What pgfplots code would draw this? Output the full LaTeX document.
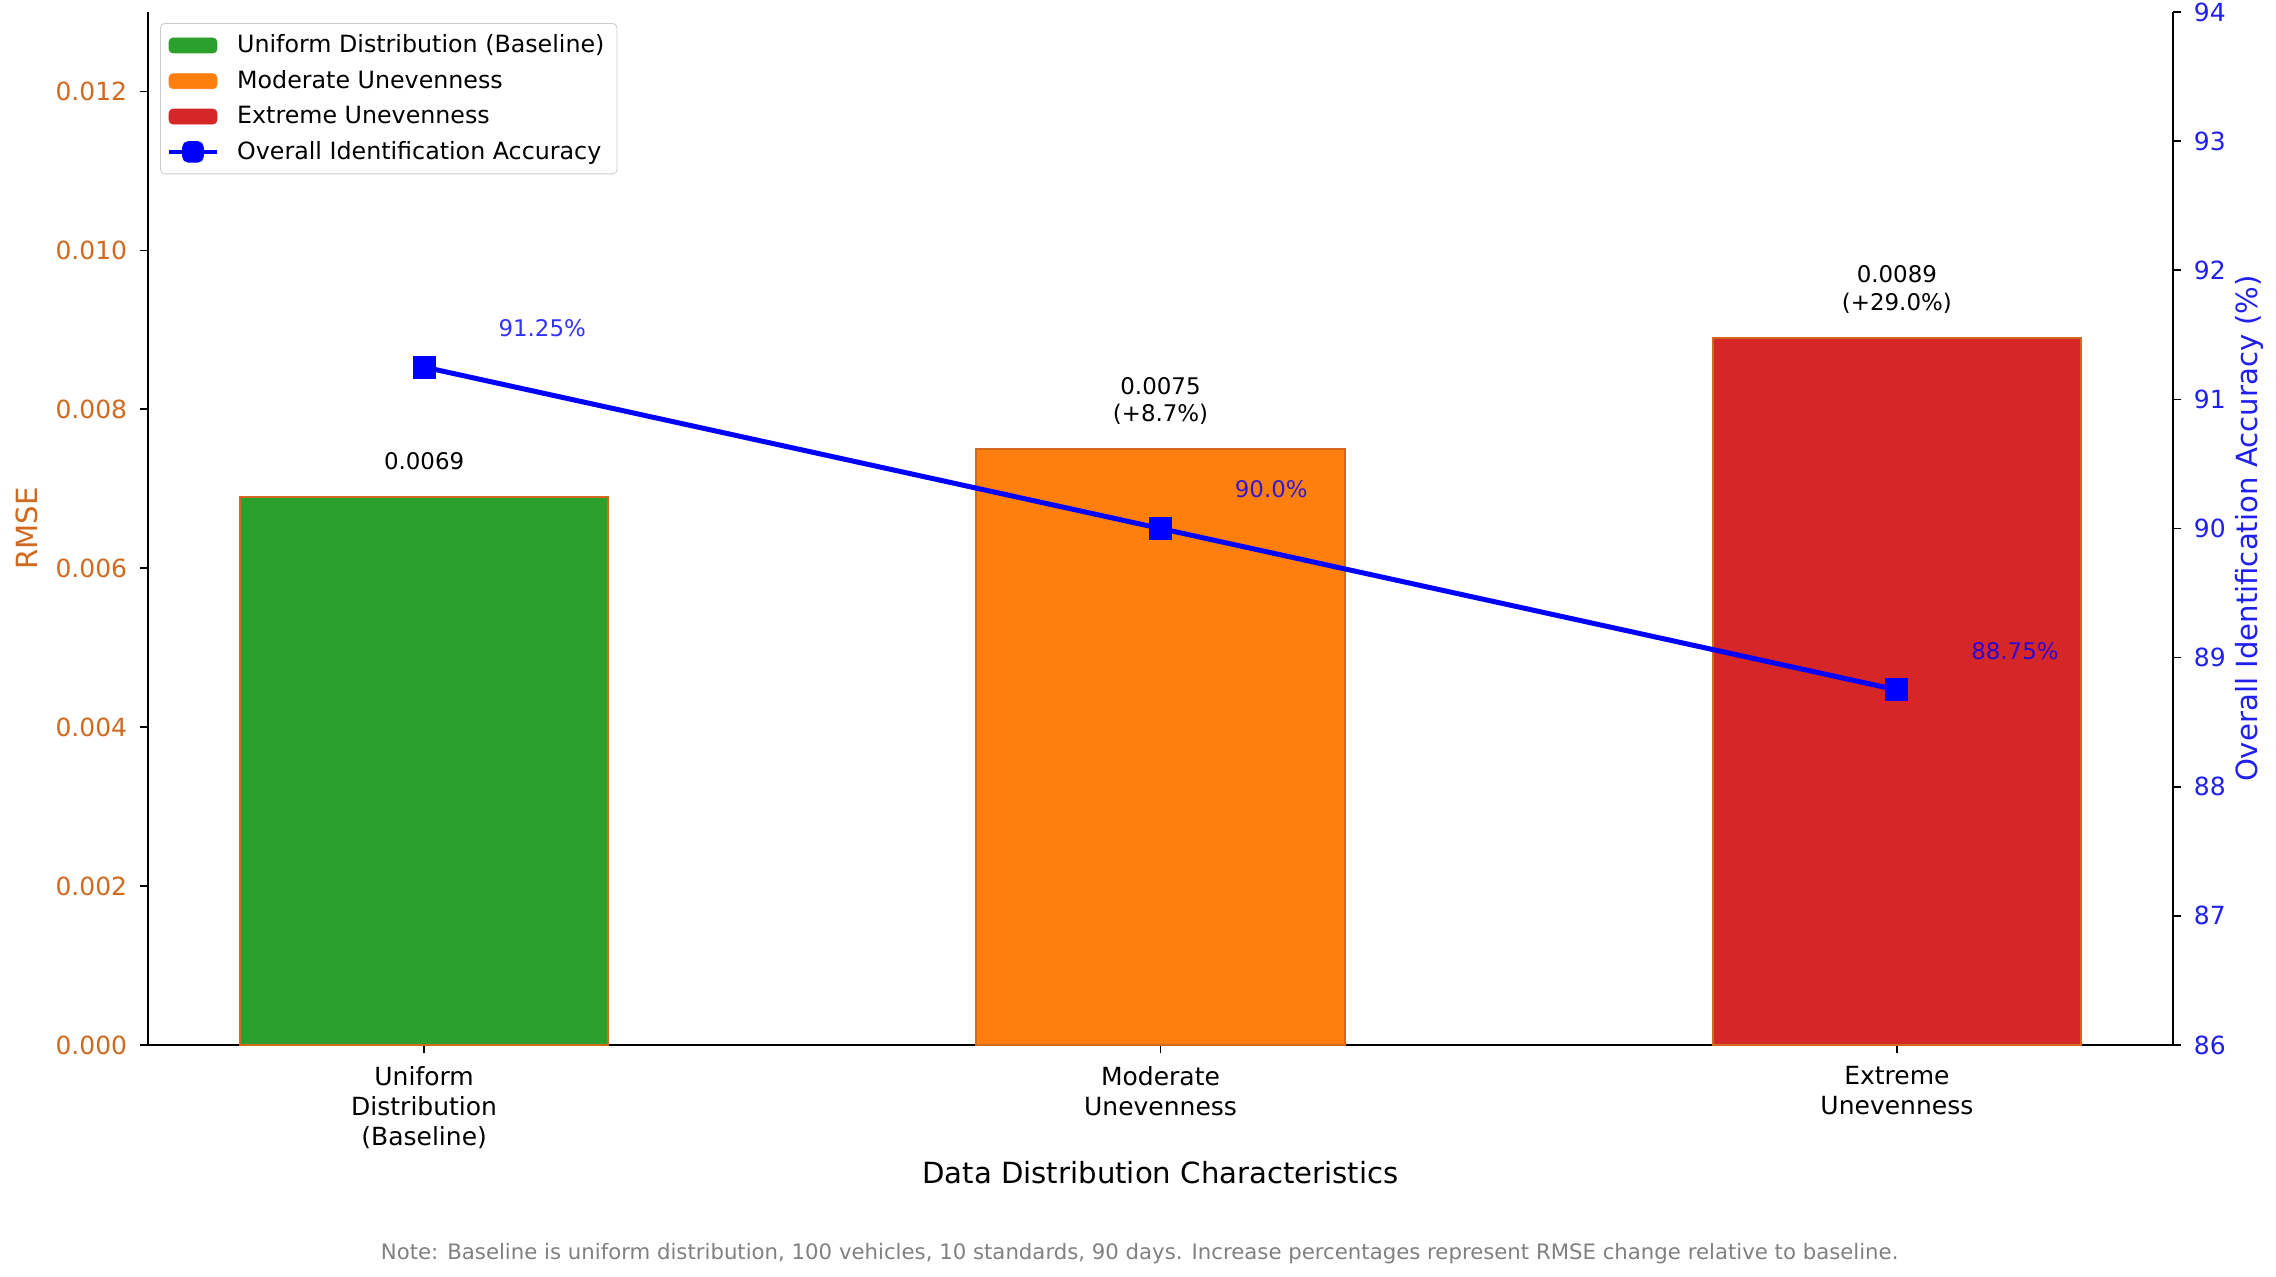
\documentclass[border=0pt]{standalone}
\usepackage{pgfplots}
\pgfplotsset{compat=1.18}
\usepackage{fontspec}
\setmainfont{DejaVu Sans}
\definecolor{cgreen}{HTML}{2CA02C}
\definecolor{corange}{HTML}{FF7F0E}
\definecolor{cred}{HTML}{D62728}
\definecolor{cedge}{HTML}{D2691E}
\definecolor{cblue}{HTML}{0000FF}
\definecolor{cticks}{HTML}{1F1FF0}
\begin{document}
\begin{tikzpicture}[x=1bp,y=1bp]
\pgfplotsset{
  every axis/.append style={
    scale only axis, width=972bp, height=495.84bp,
    at={(0,0)}, anchor=south west,
    xmin=-0.375, xmax=2.375,
    /pgf/number format/assume math mode=true,
    tick label style={font=\fontsize{12bp}{14bp}\selectfont},
    label style={font=\fontsize{14bp}{16bp}\selectfont},
    major tick length=4bp,
    tick align=outside,
    tick style={black, line width=0.8bp},
    axis line style={line width=1bp},
  }
}
\begin{axis}[
  ymin=0, ymax=0.013,
  axis y line*=left,
  axis x line*=bottom,
  ytick={0,0.002,0.004,0.006,0.008,0.010,0.012},
  yticklabel style={color=cedge, xshift=-2.5bp, /pgf/number format/fixed, /pgf/number format/fixed zerofill, /pgf/number format/precision=3},
  scaled y ticks=false,
  xtick={0,1,2},
  xticklabels={Uniform\\Distribution\\(Baseline), Moderate\\Unevenness, Extreme\\Unevenness},
  xticklabel style={align=center, yshift=-2.8bp, font=\fontsize{12bp}{14.3bp}\selectfont},
  xlabel={Data Distribution Characteristics},
  ylabel={RMSE},
  ylabel style={color=cedge, yshift=1.4bp},
  xlabel style={yshift=0.7bp},
  clip=false,
]
\addplot[ybar, bar width=0.5, bar shift=0pt, fill=cgreen, draw=cedge, line width=1bp] coordinates {(0,0.0069)};
\addplot[ybar, bar width=0.5, bar shift=0pt, fill=corange, draw=cedge, line width=1bp] coordinates {(1,0.0075)};
\addplot[ybar, bar width=0.5, bar shift=0pt, fill=cred, draw=cedge, line width=1bp] coordinates {(2,0.0089)};
\begin{scope}[every node/.style={font=\fontsize{11bp}{13bp}\selectfont, anchor=base, inner sep=0pt}]
\node at (axis cs:0,0.0069) [yshift=13bp] {0.0069};
\node at (axis cs:1,0.0075) [yshift=26.4bp] {0.0075};
\node at (axis cs:1,0.0075) [yshift=13bp] {(+8.7\%)};
\node at (axis cs:2,0.0089) [yshift=26.4bp] {0.0089};
\node at (axis cs:2,0.0089) [yshift=13bp] {(+29.0\%)};
\end{scope}
\end{axis}
\begin{axis}[
  ymin=86, ymax=94,
  axis y line*=right,
  axis x line=none,
  ytick={86,87,...,94},
  yticklabel style={color=cticks, xshift=2.5bp},
  ylabel={Overall Identification Accuracy (\%)},
  ylabel style={color=cticks, yshift=2.1bp},
  clip=false,
  legend style={at={(0,1)}, anchor=north west, xshift=5.8bp, yshift=-5.3bp,
    font=\fontsize{11.4bp}{13.4bp}\selectfont, draw=black!20, rounded corners=2bp,
    row sep=3bp, inner xsep=3bp, inner ysep=3.5bp, cells={anchor=west},
    nodes={inner xsep=3bp},
    /tikz/every odd column/.append style={column sep=5.6bp}},
  legend cell align=left,
]
\addlegendimage{legend image code/.code={\fill[cgreen] (0bp,-3.6bp) rectangle (23bp,3.6bp);}}
\addlegendentry{Uniform Distribution (Baseline)}
\addlegendimage{legend image code/.code={\fill[corange] (0bp,-3.6bp) rectangle (23bp,3.6bp);}}
\addlegendentry{Moderate Unevenness}
\addlegendimage{legend image code/.code={\fill[cred] (0bp,-3.6bp) rectangle (23bp,3.6bp);}}
\addlegendentry{Extreme Unevenness}
\addplot[color=cblue, line width=2.4bp, mark=square*, mark size=5.3bp, mark options={solid, fill=cblue, draw=cblue, line width=0pt},
  legend image code/.code={\draw[cblue, line width=2.2bp, line cap=butt] (0bp,0bp) -- (23bp,0bp); \fill[cblue] (7.5bp,-4bp) rectangle (15.5bp,4bp);}]
  coordinates {(0,91.25) (1,90.0) (2,88.75)};
\addlegendentry{Overall Identification Accuracy}
\begin{scope}[every node/.style={font=\fontsize{11bp}{13bp}\selectfont, anchor=west, inner sep=0pt, text=cblue, text opacity=0.8}]
\node at (axis cs:0,91.25) [xshift=35.5bp, yshift=18.8bp] {91.25\%};
\node at (axis cs:1,90.0) [xshift=35.5bp, yshift=18.8bp] {90.0\%};
\node at (axis cs:2,88.75) [xshift=35.5bp, yshift=18.8bp] {88.75\%};
\end{scope}
\end{axis}
\node[font=\fontsize{10.2bp}{12bp}\selectfont, text=black!50, anchor=center] at (476bp,-100.3bp) {Note: Baseline is uniform distribution, 100 vehicles, 10 standards, 90 days. Increase percentages represent RMSE change relative to baseline.};
\pgfresetboundingbox
\path[use as bounding box] (-71.04bp,-111.36bp) rectangle (1021.44bp,501.6bp);
\end{tikzpicture}
\end{document}
